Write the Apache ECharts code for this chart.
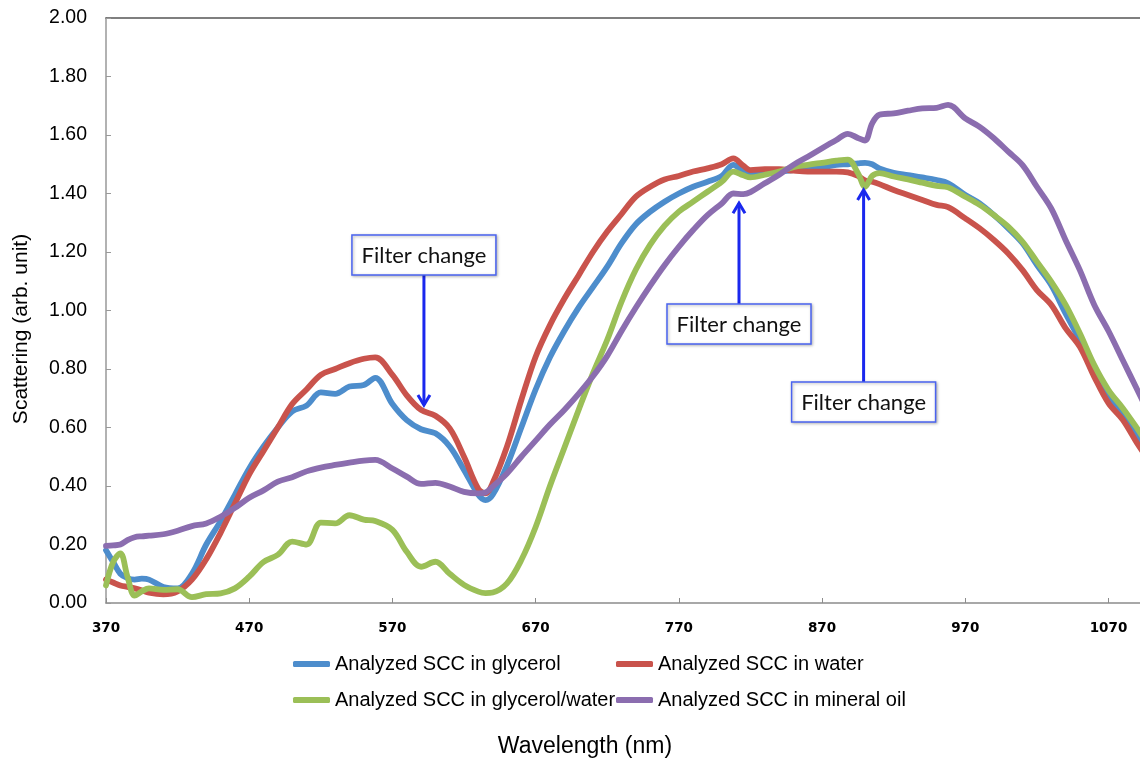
<!DOCTYPE html>
<html>
<head>
<meta charset="utf-8">
<script src="https://cdn.jsdelivr.net/npm/echarts@6/dist/echarts.min.js"></script>
<style>
  html, body { margin: 0; padding: 0; background: #fff; }
  #chart { width: 1140px; height: 761px; }
</style>
</head>
<body>
<div id="chart"></div>
<script>
// Wavelength samples (nm) shared by all four spectra
const wavelength = [
  370, 375, 380, 385, 390, 395, 400, 410, 420, 430,
  440, 450, 460, 470, 480, 490, 500, 510, 520, 530,
  540, 550, 558, 570, 580, 590, 600, 610, 620, 630,
  635, 640, 650, 660, 670, 680, 690, 700, 710, 720,
  730, 740, 750, 760, 770, 780, 790, 800, 808, 815,
  820, 830, 840, 850, 860, 870, 880, 888, 895, 900,
  905, 910, 920, 930, 940, 950, 958, 970, 980, 990,
  1000, 1010, 1020, 1030, 1040, 1050, 1060, 1070, 1080, 1090,
  1095
];

// Scattering (arb. unit) for each medium
const glycerol = [
  0.18, 0.14, 0.10, 0.085, 0.08, 0.083, 0.08, 0.055, 0.05, 0.10,
  0.20, 0.28, 0.37, 0.46, 0.535, 0.60, 0.655, 0.675, 0.72, 0.715,
  0.74, 0.745, 0.77, 0.68, 0.625, 0.594, 0.58, 0.535, 0.455, 0.37,
  0.352, 0.37, 0.47, 0.60, 0.73, 0.84, 0.93, 1.01, 1.08, 1.15,
  1.23, 1.295, 1.338, 1.372, 1.40, 1.423, 1.44, 1.46, 1.498, 1.475,
  1.467, 1.47, 1.475, 1.48, 1.486, 1.49, 1.498, 1.50, 1.503, 1.505,
  1.50, 1.486, 1.471, 1.463, 1.455, 1.446, 1.435, 1.395, 1.366, 1.326,
  1.281, 1.23, 1.156, 1.087, 0.99, 0.899, 0.797, 0.705, 0.643, 0.569,
  0.54
];
const water = [
  0.08, 0.07, 0.06, 0.055, 0.05, 0.043, 0.035, 0.03, 0.04, 0.08,
  0.15, 0.24, 0.34, 0.44, 0.52, 0.60, 0.68, 0.73, 0.78, 0.80,
  0.82, 0.835, 0.84, 0.78, 0.71, 0.66, 0.64, 0.597, 0.50, 0.39,
  0.375, 0.41, 0.535, 0.694, 0.842, 0.95, 1.04, 1.12, 1.20, 1.27,
  1.33, 1.389, 1.423, 1.448, 1.46, 1.475, 1.486, 1.50, 1.52, 1.495,
  1.48, 1.483, 1.483, 1.478, 1.475, 1.475, 1.475, 1.472, 1.46, 1.445,
  1.44, 1.432, 1.412, 1.395, 1.378, 1.361, 1.353, 1.315, 1.281, 1.241,
  1.195, 1.138, 1.07, 1.02, 0.94, 0.876, 0.774, 0.683, 0.626, 0.546,
  0.51
];
const glycerolWater = [
  0.06, 0.14, 0.17, 0.09, 0.025, 0.04, 0.05, 0.045, 0.047, 0.02,
  0.03, 0.033, 0.05, 0.09, 0.14, 0.165, 0.21, 0.20, 0.275, 0.272,
  0.30, 0.285, 0.28, 0.25, 0.175, 0.124, 0.141, 0.10, 0.062, 0.039,
  0.034, 0.036, 0.067, 0.147, 0.26, 0.40, 0.53, 0.66, 0.785, 0.90,
  1.03, 1.14, 1.225, 1.29, 1.338, 1.372, 1.406, 1.44, 1.475, 1.462,
  1.455, 1.464, 1.475, 1.49, 1.498, 1.505, 1.512, 1.516, 1.47, 1.423,
  1.46, 1.47, 1.458, 1.448, 1.437, 1.426, 1.421, 1.389, 1.361, 1.326,
  1.287, 1.235, 1.167, 1.099, 1.02, 0.922, 0.814, 0.728, 0.666, 0.597,
  0.56
];
const mineralOil = [
  0.195, 0.197, 0.20, 0.215, 0.225, 0.228, 0.23, 0.235, 0.247, 0.263,
  0.272, 0.295, 0.325, 0.36, 0.385, 0.415, 0.43, 0.45, 0.463, 0.472,
  0.48, 0.487, 0.489, 0.46, 0.432, 0.407, 0.411, 0.398, 0.38, 0.375,
  0.378, 0.398, 0.443, 0.50, 0.555, 0.61, 0.66, 0.715, 0.775, 0.845,
  0.93, 1.01, 1.085, 1.155, 1.218, 1.275, 1.326, 1.366, 1.40, 1.398,
  1.405, 1.435, 1.464, 1.498, 1.526, 1.555, 1.583, 1.604, 1.59, 1.581,
  1.64, 1.669, 1.674, 1.683, 1.691, 1.693, 1.703, 1.657, 1.628, 1.589,
  1.543, 1.497, 1.423, 1.349, 1.241, 1.138, 1.02, 0.93, 0.83, 0.73,
  0.68
];

const seriesNames = [
  'Analyzed SCC in glycerol',
  'Analyzed SCC in water',
  'Analyzed SCC in glycerol/water',
  'Analyzed SCC in mineral oil'
];
const seriesValues = [glycerol, water, glycerolWater, mineralOil];
const seriesColors = ['#4d8dcc', '#c9534c', '#9bbf57', '#8b6daf'];

// Axis ticks
const xTicks = [370, 470, 570, 670, 770, 870, 970, 1070];
const xMin = 370, xMax = 1092;

// Filter-change annotations: wavelength, arrow tip value, label centre value
const noteWavelength = [592, 812, 899];
const noteTip = [0.677, 1.367, 1.412];
const noteLabel = [1.19, 0.954, 0.687];
const noteText = 'Filter change';

const chart = echarts.init(document.getElementById('chart'), null, { renderer: 'canvas' });

const legendBase = {
  icon: 'roundRect',
  itemWidth: 37,
  itemHeight: 6,
  padding: 0,
  selectedMode: false,
  textStyle: { fontFamily: 'Liberation Sans', fontSize: 20, lineHeight: 20, color: '#000' }
};

chart.setOption({
  animation: false,
  backgroundColor: '#fff',
  grid: { left: 106, right: 0, top: 18, bottom: 158, containLabel: false },
  legend: [
    Object.assign({}, legendBase, { data: [seriesNames[0]], left: 293, top: 654 }),
    Object.assign({}, legendBase, { data: [seriesNames[1]], left: 616, top: 654 }),
    Object.assign({}, legendBase, { data: [seriesNames[2]], left: 293, top: 690 }),
    Object.assign({}, legendBase, { data: [seriesNames[3]], left: 616, top: 690 })
  ],
  xAxis: [
    {
      type: 'value', min: xMin, max: xMax,
      axisLine: { show: true, onZero: false, lineStyle: { color: '#8c8c8c', width: 1.5 } },
      axisTick: { show: true, inside: true, length: 5, customValues: xTicks, lineStyle: { color: '#8c8c8c' } },
      axisLabel: {
        customValues: xTicks, margin: 18,
        fontFamily: 'DejaVu Sans', fontWeight: 'bold', fontSize: 13.5, color: '#000',
        formatter: v => String(v)
      },
      splitLine: { show: false }
    },
    {
      type: 'value', position: 'top', min: xMin, max: xMax,
      axisLine: { show: true, onZero: false, lineStyle: { color: '#555', width: 1.5 } },
      axisTick: { show: false }, axisLabel: { show: false }, splitLine: { show: false }
    }
  ],
  yAxis: {
    type: 'value', min: 0, max: 2, interval: 0.2,
    axisLine: { show: true, lineStyle: { color: '#999', width: 1.5 } },
    axisTick: { show: true, inside: true, length: 5, lineStyle: { color: '#999' } },
    axisLabel: {
      margin: 19, fontFamily: 'Liberation Sans', fontSize: 19.5, color: '#000',
      formatter: v => v.toFixed(2)
    },
    splitLine: { show: false }
  },
  series: seriesNames.map((name, k) => ({
    name,
    type: 'line',
    xAxisIndex: 0,
    data: wavelength.map((w, i) => [w, seriesValues[k][i]]),
    smooth: 0.35,
    symbol: 'none',
    clip: true,
    color: seriesColors[k],
    lineStyle: { width: 5.8, color: seriesColors[k], cap: 'round', join: 'round' }
  }))
});

// Axis titles and the filter-change call-outs, placed through the axis scales
const graphics = [
  {
    type: 'text', x: 585, y: 747, z: 50,
    style: { text: 'Wavelength (nm)', align: 'center', verticalAlign: 'middle', font: '23px "Liberation Sans"', fill: '#000' }
  },
  {
    type: 'text', x: 21, y: 329, rotation: Math.PI / 2, z: 50,
    style: { text: 'Scattering (arb. unit)', align: 'center', verticalAlign: 'middle', font: '21px "Liberation Sans"', fill: '#000' }
  }
];

const boxW = 144, boxH = 40, head = 10;
noteWavelength.forEach((w, i) => {
  const c = chart.convertToPixel({ xAxisIndex: 0, yAxisIndex: 0 }, [w, noteLabel[i]]);
  const t = chart.convertToPixel({ xAxisIndex: 0, yAxisIndex: 0 }, [w, noteTip[i]]);
  const down = t[1] > c[1];
  const startY = down ? c[1] + boxH / 2 : c[1] - boxH / 2;
  const dir = down ? -1 : 1;
  graphics.push({
    type: 'line', z: 60,
    shape: { x1: t[0], y1: startY, x2: t[0], y2: t[1] },
    style: { stroke: '#1a28ee', lineWidth: 3 }
  });
  graphics.push({
    type: 'polyline', z: 60,
    shape: { points: [[t[0] - 6, t[1] + dir * head], [t[0], t[1]], [t[0] + 6, t[1] + dir * head]] },
    style: { stroke: '#1a28ee', lineWidth: 3, fill: null, lineJoin: 'miter' }
  });
  graphics.push({
    type: 'rect', z: 61,
    shape: { x: c[0] - boxW / 2, y: c[1] - boxH / 2, width: boxW, height: boxH },
    style: { fill: '#fff', stroke: '#4a63f0', lineWidth: 1.5, shadowBlur: 3, shadowOffsetX: 1, shadowOffsetY: 1, shadowColor: 'rgba(0,0,0,0.3)' }
  });
  graphics.push({
    type: 'text', z: 62, x: c[0], y: c[1] + 1,
    style: { text: noteText, align: 'center', verticalAlign: 'middle', font: '22px Lato', fill: '#111' }
  });
});

chart.setOption({ graphic: graphics });
</script>
</body>
</html>
